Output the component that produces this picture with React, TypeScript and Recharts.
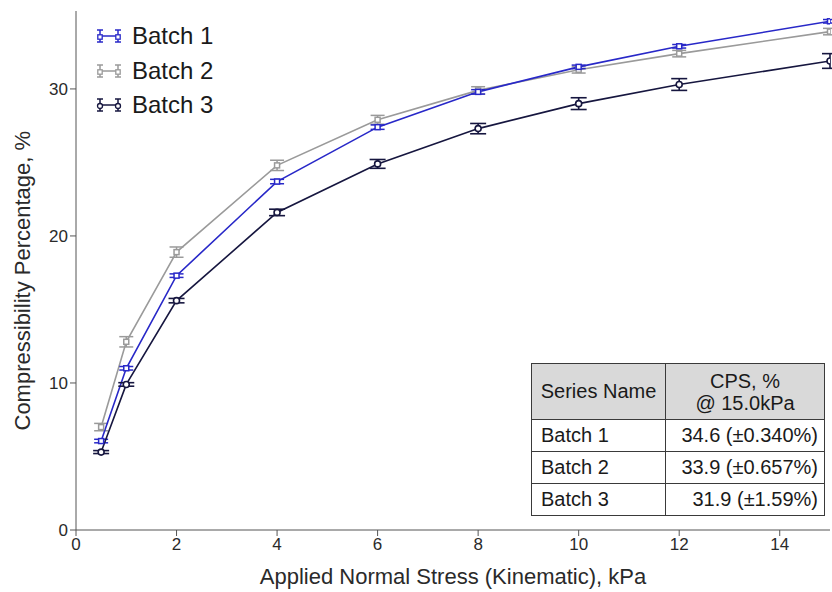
import React from "react";
import {
  ComposedChart,
  Line,
  ErrorBar,
  XAxis,
  YAxis,
} from "recharts";

const FONT = "Arial, 'Liberation Sans', sans-serif";

// applied stress, kPa
const stress = [0.5, 1, 2, 4, 6, 8, 10, 12, 15];
const batch1 = [6.05, 11.0, 17.3, 23.7, 27.4, 29.8, 31.5, 32.9, 34.6];
const batch1Err = [0.12, 0.12, 0.12, 0.15, 0.15, 0.15, 0.12, 0.12, 0.12];
const batch2 = [7.0, 12.8, 18.9, 24.8, 27.9, 29.9, 31.3, 32.4, 33.9];
const batch2Err = [0.25, 0.35, 0.35, 0.35, 0.3, 0.25, 0.22, 0.22, 0.22];
const batch3 = [5.3, 9.9, 15.6, 21.6, 24.9, 27.3, 29.0, 30.3, 31.9];
const batch3Err = [0.1, 0.12, 0.15, 0.22, 0.3, 0.35, 0.4, 0.4, 0.5];

const xTicks = [0, 2, 4, 6, 8, 10, 12, 14];
const yTicks = [0, 10, 20, 30];

const seriesNames = ["Batch 1", "Batch 2", "Batch 3"];
const seriesColors = ["#2828c8", "#9a9a9a", "#16163f"];
const tableValues = ["34.6 (±0.340%)", "33.9 (±0.657%)", "31.9 (±1.59%)"];

const data = stress.map((x, i) => ({
  x,
  b1: batch1[i],
  b1e: batch1Err[i],
  b2: batch2[i],
  b2e: batch2Err[i],
  b3: batch3[i],
  b3e: batch3Err[i],
}));

const squareDot = (color: string, s: number) => (props: any) => {
  const { cx, cy, index } = props;
  if (cx == null || cy == null) return <g key={index} />;
  return (
    <rect
      key={index}
      x={cx - s / 2}
      y={cy - s / 2}
      width={s}
      height={s}
      fill="#fff"
      stroke={color}
      strokeWidth={1.5}
    />
  );
};

const circleDot = (color: string) => (props: any) => {
  const { cx, cy, index } = props;
  if (cx == null || cy == null) return <g key={index} />;
  return <circle key={index} cx={cx} cy={cy} r={3} fill="#fff" stroke={color} strokeWidth={1.6} />;
};

function LegendIcon({ color, circle }: { color: string; circle?: boolean }) {
  return (
    <svg width={26} height={16} style={{ display: "block" }}>
      <line x1={4} y1={8} x2={22} y2={8} stroke={color} strokeWidth={1.5} />
      <line x1={4} y1={2} x2={4} y2={14} stroke={color} strokeWidth={1.5} />
      <line x1={1} y1={2} x2={7} y2={2} stroke={color} strokeWidth={1.5} />
      <line x1={1} y1={14} x2={7} y2={14} stroke={color} strokeWidth={1.5} />
      <line x1={22} y1={2} x2={22} y2={14} stroke={color} strokeWidth={1.5} />
      <line x1={19} y1={2} x2={25} y2={2} stroke={color} strokeWidth={1.5} />
      <line x1={19} y1={14} x2={25} y2={14} stroke={color} strokeWidth={1.5} />
      {circle ? (
        <>
          <circle cx={4} cy={9} r={2.5} fill="#fff" stroke={color} strokeWidth={1.3} />
          <circle cx={22} cy={9} r={2.5} fill="#fff" stroke={color} strokeWidth={1.3} />
        </>
      ) : (
        <>
          <rect x={1.8} y={6.8} width={4.4} height={4.4} fill="#fff" stroke={color} strokeWidth={1.3} />
          <rect x={19.8} y={6.8} width={4.4} height={4.4} fill="#fff" stroke={color} strokeWidth={1.3} />
        </>
      )}
    </svg>
  );
}

const cell: React.CSSProperties = {
  border: "1px solid #3a3a3a",
  padding: "0 8px 0 9px",
  fontSize: 20,
  color: "#1a1a1a",
  whiteSpace: "nowrap",
  overflow: "visible",
};

export default function App() {
  return (
    <div
      style={{
        position: "absolute",
        left: 0,
        top: 0,
        width: 832,
        height: 592,
        background: "#fff",
        fontFamily: FONT,
      }}
    >
      <ComposedChart
        width={832}
        height={592}
        data={data}
        margin={{ top: 11, right: 2, bottom: 0, left: 0 }}
      >
        <XAxis
          dataKey="x"
          type="number"
          domain={[0, 15]}
          ticks={xTicks}
          allowDataOverflow
          height={62}
          tickSize={6}
          stroke="#555"
          tick={{ fill: "#2a2a2a", fontSize: 17, fontFamily: FONT }}
          label={{
            value: "Applied Normal Stress (Kinematic), kPa",
            position: "insideBottom",
            offset: 8,
            fill: "#2a2a2a",
            fontSize: 22,
            fontFamily: FONT,
          }}
        />
        <YAxis
          type="number"
          domain={[0, 35.3]}
          ticks={yTicks}
          allowDataOverflow
          width={76}
          tickSize={6}
          stroke="#555"
          tick={{ fill: "#2a2a2a", fontSize: 17, fontFamily: FONT }}
          label={{
            value: "Compressibility Percentage, %",
            angle: -90,
            position: "insideLeft",
            offset: 22,
            dy: 160,
            fill: "#2a2a2a",
            fontSize: 22,
            fontFamily: FONT,
          }}
        />
        <Line
          dataKey="b2"
          stroke={seriesColors[1]}
          strokeWidth={1.6}
          isAnimationActive={false}
          dot={squareDot(seriesColors[1], 5)}
          activeDot={false}
        >
          <ErrorBar dataKey="b2e" direction="y" width={7} stroke={seriesColors[1]} strokeWidth={1.5} />
        </Line>
        <Line
          dataKey="b1"
          stroke={seriesColors[0]}
          strokeWidth={1.6}
          isAnimationActive={false}
          dot={squareDot(seriesColors[0], 5)}
          activeDot={false}
        >
          <ErrorBar dataKey="b1e" direction="y" width={7} stroke={seriesColors[0]} strokeWidth={1.5} />
        </Line>
        <Line
          dataKey="b3"
          stroke={seriesColors[2]}
          strokeWidth={1.6}
          isAnimationActive={false}
          dot={circleDot(seriesColors[2])}
          activeDot={false}
        >
          <ErrorBar dataKey="b3e" direction="y" width={8} stroke={seriesColors[2]} strokeWidth={1.6} />
        </Line>
      </ComposedChart>

      {/* legend */}
      <div style={{ position: "absolute", left: 96, top: 19 }}>
        {seriesNames.map((name, i) => (
          <div
            key={name}
            style={{ display: "flex", alignItems: "center", height: 34.5 }}
          >
            <LegendIcon color={seriesColors[i]} circle={i === 2} />
            <span style={{ marginLeft: 10, fontSize: 24, color: "#1a1a1a" }}>{name}</span>
          </div>
        ))}
      </div>

      {/* summary table */}
      <table
        style={{
          position: "absolute",
          left: 531,
          top: 363,
          width: 293,
          borderCollapse: "collapse",
          tableLayout: "fixed",
          background: "#fff",
          fontFamily: FONT,
        }}
      >
        <colgroup>
          <col style={{ width: 134 }} />
          <col style={{ width: 159 }} />
        </colgroup>
        <tbody>
          <tr style={{ height: 56, background: "#d9d9d9" }}>
            <td style={{ ...cell, textAlign: "center", padding: 0 }}>Series Name</td>
            <td style={{ ...cell, textAlign: "center", lineHeight: "22px", padding: 0 }}>
              CPS, %
              <br />@ 15.0kPa
            </td>
          </tr>
          {seriesNames.map((name, i) => (
            <tr key={name} style={{ height: 32 }}>
              <td style={{ ...cell, textAlign: "left" }}>{name}</td>
              <td style={{ ...cell, textAlign: "right", padding: "0 6px 0 0" }}>{tableValues[i]}</td>
            </tr>
          ))}
        </tbody>
      </table>
    </div>
  );
}
